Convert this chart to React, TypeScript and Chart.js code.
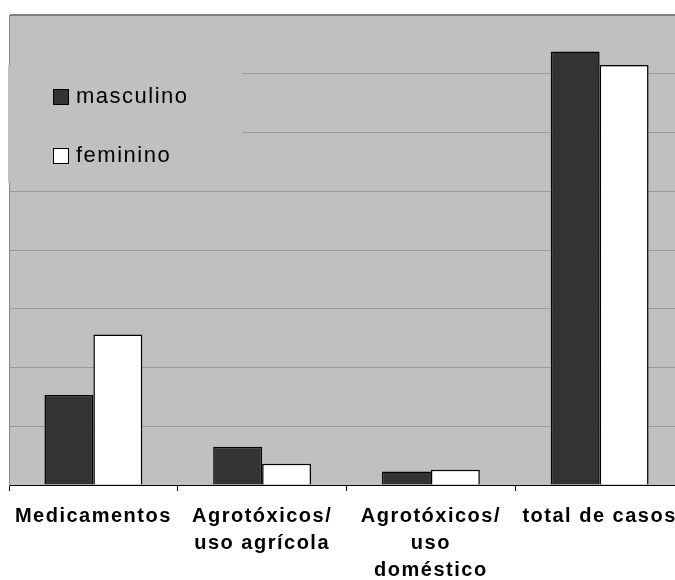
import React, { useEffect, useRef } from "react";
import { Chart, registerables } from "chart.js";

Chart.register(...registerables);

const categories: (string | string[])[] = [
  "Medicamentos",
  ["Agrotóxicos/", "uso agrícola"],
  ["Agrotóxicos/", "uso", "doméstico"],
  "total de casos",
];
const seriesNames = ["masculino", "feminino"];
const masculino = [1.53, 0.65, 0.23, 7.38];
const feminino = [2.56, 0.36, 0.26, 7.15];
const yMax = 8;
const yStep = 1;

const PLOT_BG = "#C0C0C0";
const CANVAS_W = 690;
const CANVAS_H = 580;

const bgPlugin = {
  id: "plotBg",
  beforeDraw(chart: any) {
    const { ctx, chartArea } = chart;
    ctx.save();
    ctx.fillStyle = PLOT_BG;
    ctx.fillRect(chartArea.left, chartArea.top, chartArea.right - chartArea.left, chartArea.bottom - chartArea.top);
    ctx.restore();
    (ctx as any).letterSpacing = "1.5px";
  },
};

const legendPlugin = {
  id: "boxLegend",
  afterDraw(chart: any) {
    const { ctx, chartArea } = chart;
    ctx.save();
    ctx.fillStyle = PLOT_BG;
    ctx.fillRect(chartArea.left - 1, 65, 242 - chartArea.left + 1, 118);
    ctx.font = "22px 'Liberation Sans', Arial, sans-serif";
    (ctx as any).letterSpacing = "1.5px";
    ctx.textBaseline = "alphabetic";
    ctx.textAlign = "left";
    chart.data.datasets.forEach((ds: any, i: number) => {
      const y = 89 + i * 59;
      ctx.fillStyle = ds.backgroundColor;
      ctx.fillRect(53.5, y + 0.5, 15, 15);
      ctx.strokeStyle = "#000";
      ctx.lineWidth = 1;
      ctx.strokeRect(53.5, y + 0.5, 15, 15);
      ctx.fillStyle = "#000";
      ctx.fillText(ds.label, 76, y + 14);
    });
    ctx.restore();
  },
};

export default function App() {
  const ref = useRef<HTMLCanvasElement>(null);
  useEffect(() => {
    if (!ref.current) return;
    const chart = new Chart(ref.current, {
      type: "bar",
      data: {
        labels: categories,
        datasets: [
          {
            label: seriesNames[0],
            data: masculino,
            backgroundColor: "#333333",
            borderColor: "#000000",
            borderWidth: 1.5,
            categoryPercentage: 0.58,
            barPercentage: 1,
          },
          {
            label: seriesNames[1],
            data: feminino,
            backgroundColor: "#FFFFFF",
            borderColor: "#000000",
            borderWidth: 1.5,
            categoryPercentage: 0.58,
            barPercentage: 1,
          },
        ],
      },
      options: {
        responsive: false,
        maintainAspectRatio: false,
        animation: false,
        devicePixelRatio: 1,
        layout: { padding: { left: 9, top: 15, right: 6, bottom: 0 } },
        plugins: {
          legend: { display: false },
          tooltip: { enabled: false },
        },
        scales: {
          x: {
            grid: {
              offset: true,
              drawOnChartArea: false,
              drawTicks: true,
              tickLength: 6,
              color: "#000000",
            },
            border: { display: true, color: "#000000", width: 1 },
            ticks: {
              color: "#000000",
              font: { family: "'Liberation Sans', Arial, sans-serif", size: 20, weight: "bold", lineHeight: 1.35 },
              maxRotation: 0,
              autoSkip: false,
              padding: 12,
            },
            afterFit(scale: any) {
              scale.height = 95;
            },
          },
          y: {
            min: 0,
            max: yMax,
            ticks: { display: false, stepSize: yStep },
            grid: {
              drawTicks: false,
              color: (c: any) => (c.tick && c.tick.value === yMax ? "#808080" : "#9A9A9A"),
              lineWidth: (c: any) => (c.tick && c.tick.value === yMax ? 2 : 1),
            },
            border: { display: true, color: "#888888", width: 1 },
            afterFit(scale: any) {
              scale.width = 0;
            },
          },
        },
      },
      plugins: [bgPlugin, legendPlugin],
    });
    return () => chart.destroy();
  }, []);
  return (
    <div
      style={{
        position: "fixed",
        left: 0,
        top: 0,
        width: 675,
        height: CANVAS_H,
        overflow: "hidden",
        background: "#FFFFFF",
      }}
    >
      <canvas
        ref={ref}
        width={CANVAS_W}
        height={CANVAS_H}
        style={{ display: "block", width: CANVAS_W + "px", height: CANVAS_H + "px" }}
      />
    </div>
  );
}
